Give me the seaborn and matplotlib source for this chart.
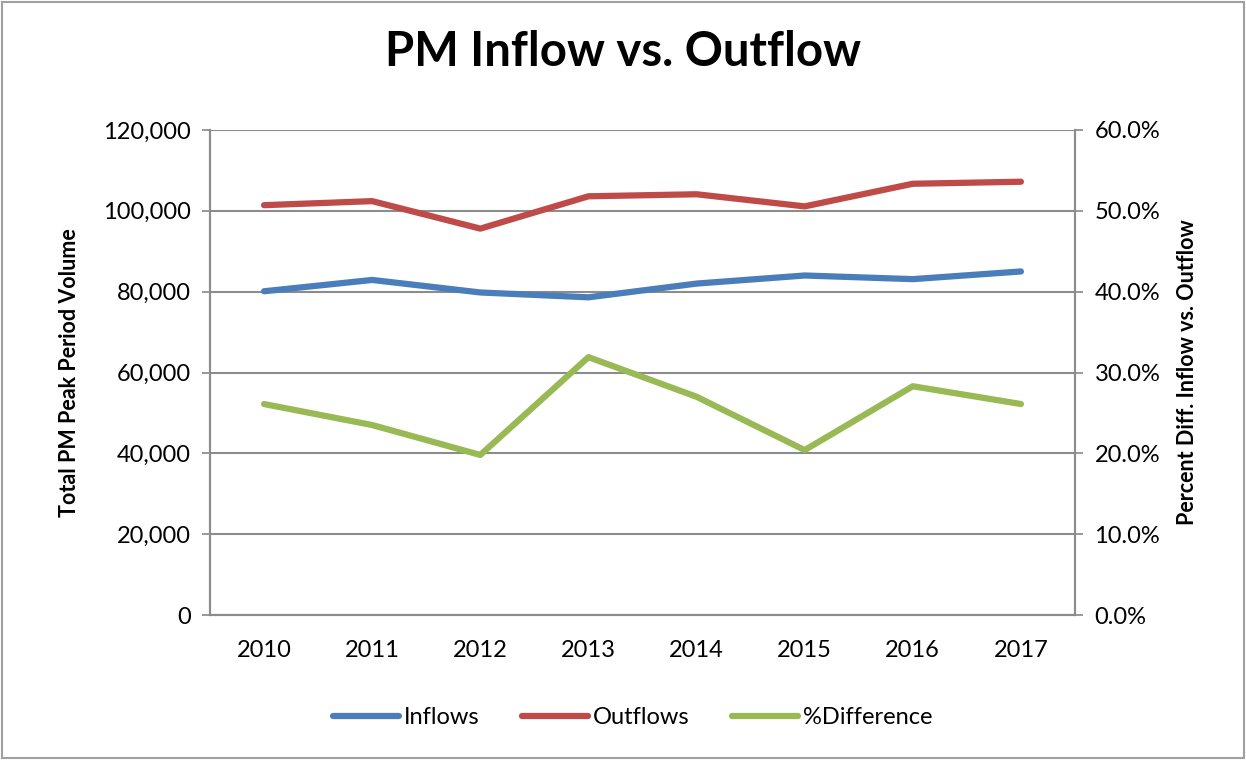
import numpy as np
import pandas as pd
import matplotlib
matplotlib.use("Agg")
import matplotlib.pyplot as plt
import seaborn as sns
from matplotlib.ticker import FuncFormatter

years = ["2010", "2011", "2012", "2013", "2014", "2015", "2016", "2017"]
inflows = [80100, 82900, 79800, 78600, 82000, 84000, 83100, 85000]
outflows = [101400, 102400, 95600, 103600, 104100, 101100, 106700, 107200]
pct_diff = [26.1, 23.5, 19.8, 31.9, 27.0, 20.4, 28.3, 26.1]

sns.set_theme(style="white")
plt.rcParams['font.family'] = ['Lato', 'DejaVu Sans']
plt.rcParams['text.color'] = "black"

df = pd.DataFrame({"Year": years, "Inflows": inflows, "Outflows": outflows, "Diff": pct_diff})
df["x"] = np.arange(len(years))

fig = plt.figure(figsize=(12.46, 7.6), dpi=100)
ax = fig.add_axes([210/1246, 1-615/760, 865/1246, 485/760])
ax2 = ax.twinx()

grid_c = "#8c8c8c"
sns.lineplot(data=df, x="x", y="Inflows", ax=ax, color="#4A7EBB", lw=4.5, label="Inflows", legend=False)
sns.lineplot(data=df, x="x", y="Outflows", ax=ax, color="#BE4B48", lw=4.5, label="Outflows", legend=False)
sns.lineplot(data=df, x="x", y="Diff", ax=ax2, color="#98B954", lw=4.5, label="%Difference", legend=False)

ax.set_xlim(-0.5, len(years) - 0.5)
ax.set_ylim(0, 120000)
ax2.set_ylim(0, 60)
ax.set_yticks(np.arange(0, 120001, 20000))
ax2.set_yticks(np.arange(0, 60.1, 10))
ax.yaxis.set_major_formatter(FuncFormatter(lambda v, p: f"{int(v):,}"))
ax2.yaxis.set_major_formatter(FuncFormatter(lambda v, p: f"{v:.1f}%"))
ax.set_xticks(df["x"])
ax.set_xticklabels(years)

ax.grid(axis="y", color=grid_c, lw=1.5)
ax.set_axisbelow(True)
for a in (ax, ax2):
    a.spines["top"].set_visible(False)
    for s in ("left", "right", "bottom"):
        a.spines[s].set_color(grid_c)
        a.spines[s].set_linewidth(1.5)
ax.tick_params(axis="y", which="major", left=True, length=6, color=grid_c, labelsize=17,
               labelcolor="black", pad=8)
ax2.tick_params(axis="y", which="major", right=True, length=6, color=grid_c, labelsize=17,
                labelcolor="black", pad=8)
ax.tick_params(axis="x", bottom=False, labelsize=17, labelcolor="black", pad=12)

ax.set_xlabel("")
ax.set_ylabel("Total PM Peak Period Volume", fontsize=15.5, fontweight="bold", color="black", labelpad=16)
ax2.set_ylabel("Percent Diff. Inflow vs. Outflow", fontsize=15.5, fontweight="bold", color="black", labelpad=12)

fig.suptitle("PM Inflow vs. Outflow", fontsize=34, fontweight="bold", color="black", y=0.96)

h1, l1 = ax.get_legend_handles_labels()
h2, l2 = ax2.get_legend_handles_labels()
fig.legend(h1 + h2, l1 + l2, loc="center", bbox_to_anchor=(0.508, 0.056), ncol=3,
           frameon=False, fontsize=17, handlelength=2.8, columnspacing=1.8, handletextpad=0.2)

fig.patches.append(plt.Rectangle((0.002, 0.002), 0.996, 0.996, transform=fig.transFigure,
                                 fill=False, edgecolor="#a0a0a0", lw=1.5))

fig.savefig("out.png", dpi=100)
